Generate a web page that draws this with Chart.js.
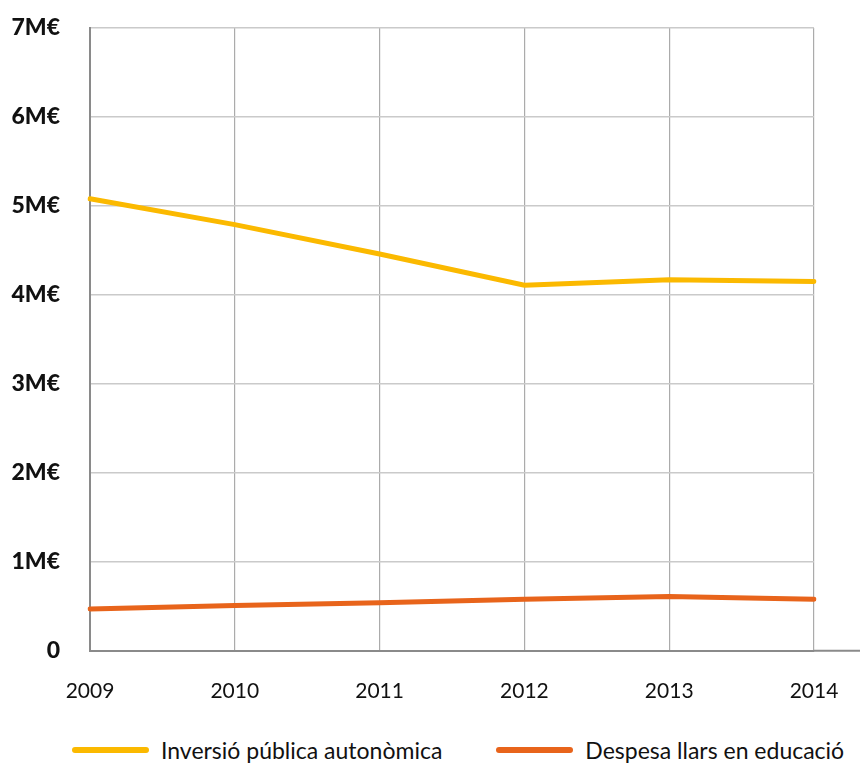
<!DOCTYPE html>
<html lang="ca">
  <head>
    <meta charset="UTF-8" />
    <title>Inversió i despesa en educació</title>
    <style>
      body {
        margin: 0;
        background: #fff;
        font-family: "Lato", sans-serif;
        overflow: hidden;
      }
      #wrap {
        position: relative;
        width: 860px;
        height: 765px;
      }
      #box {
        width: 860px;
        height: 732px;
      }
      #legend {
        position: absolute;
        left: 0;
        top: 735px;
        height: 30px;
        width: 860px;
        display: flex;
        align-items: center;
        padding-left: 72px;
        box-sizing: border-box;
        gap: 54px;
      }
      .item {
        display: flex;
        align-items: center;
        font-size: 23px;
        color: #111;
      }
      .swatch {
        width: 77px;
        height: 6px;
        border-radius: 3px;
        margin-right: 12px;
      }
    </style>
  </head>
  <body>
    <div id="wrap">
      <div id="box"><canvas id="chart"></canvas></div>
      <div id="legend"></div>
    </div>
    <script src="https://cdn.jsdelivr.net/npm/chart.js"></script>
    <script>
      // dades (milions d'euros)
      const years = ["2009", "2010", "2011", "2012", "2013", "2014"];
      const inversioPublica = [5.08, 4.79, 4.46, 4.11, 4.17, 4.15];
      const despesaLlars = [0.47, 0.51, 0.54, 0.58, 0.61, 0.58];
      const seriesNames = ["Inversió pública autonòmica", "Despesa llars en educació"];

      const yellow = "#fbb900";
      const orange = "#e8641b";

      // allarga la línia de l'eix X fins a la vora dreta
      const axisExtend = {
        id: "axisExtend",
        afterDraw(chart) {
          const { ctx, chartArea } = chart;
          ctx.save();
          ctx.strokeStyle = "#8a8a8a";
          ctx.lineWidth = 2;
          ctx.beginPath();
          ctx.moveTo(chartArea.right, chartArea.bottom);
          ctx.lineTo(chart.width, chartArea.bottom);
          ctx.stroke();
          ctx.restore();
        },
      };

      const chart = new Chart(document.getElementById("chart"), {
        type: "line",
        data: {
          labels: years,
          datasets: [
            {
              label: seriesNames[0],
              data: inversioPublica,
              borderColor: yellow,
              backgroundColor: yellow,
              borderWidth: 5,
              borderCapStyle: "round",
              pointRadius: 0,
              tension: 0,
            },
            {
              label: seriesNames[1],
              data: despesaLlars,
              borderColor: orange,
              backgroundColor: orange,
              borderWidth: 5,
              borderCapStyle: "round",
              pointRadius: 0,
              tension: 0,
            },
          ],
        },
        options: {
          responsive: true,
          maintainAspectRatio: false,
          animation: false,
          layout: { padding: 0 },
          plugins: {
            tooltip: { enabled: false },
            legend: { display: false },
          },
          scales: {
            x: {
              afterFit: (scale) => {
                scale.paddingLeft = 0;
                scale.paddingRight = 46;
              },
              grid: { color: "#ababab", lineWidth: 1.2, drawTicks: false },
              border: { color: "#8a8a8a", width: 2 },
              ticks: {
                padding: 28,
                color: "#111",
                maxRotation: 0,
                font: { family: "Lato", size: 21 },
              },
            },
            y: {
              min: 0,
              max: 7,
              afterFit: (scale) => {
                scale.width = 90;
                scale.paddingTop = 28;
                scale.paddingBottom = 0;
              },
              grid: { color: "#cacaca", lineWidth: 1.5, drawTicks: false },
              border: { color: "#8a8a8a", width: 2 },
              ticks: {
                stepSize: 1,
                padding: 30,
                color: "#111",
                font: { family: "Lato", size: 23, weight: "900" },
                callback: (v) => (v === 0 ? "0" : v + "M€"),
              },
            },
          },
        },
        plugins: [axisExtend],
      });

      // llegenda HTML
      const legend = document.getElementById("legend");
      chart.data.datasets.forEach((ds) => {
        const item = document.createElement("div");
        item.className = "item";
        const sw = document.createElement("span");
        sw.className = "swatch";
        sw.style.background = ds.borderColor;
        const txt = document.createElement("span");
        txt.textContent = ds.label;
        item.appendChild(sw);
        item.appendChild(txt);
        legend.appendChild(item);
      });
    </script>
  </body>
</html>
